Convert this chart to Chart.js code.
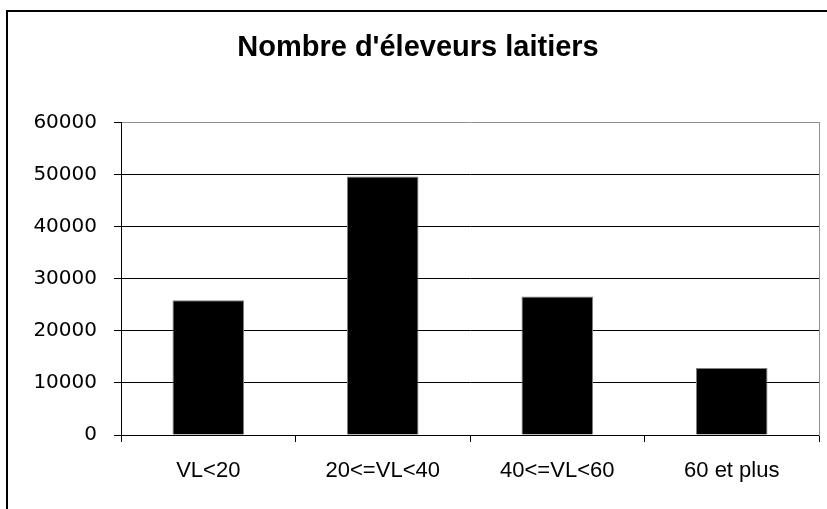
<html>
  <head>
    <meta charset="utf-8">
    <script src="https://cdn.jsdelivr.net/npm/chart.js@4.4.0/dist/chart.umd.min.js"></script>
    <style>
      body { margin: 0; background: #fff; }
      #wrap { position: relative; width: 827px; height: 509px; }
      #frame { position: absolute; left: 6px; top: 10px; right: -10px; bottom: -10px;
               border-left: 2px solid #000; border-top: 2px solid #000; }
      #chart { position: absolute; left: 0; top: 0; }
    </style>
  </head>
  <body>
    <div id="wrap">
      <div id="frame"></div>
      <canvas id="chart" width="827" height="509"></canvas>
    </div>
    <script>
const categories = ["VL<20", "20<=VL<40", "40<=VL<60", "60 et plus"];
const eleveurs = [25900, 49700, 26600, 12900];
const yMin = 0, yMax = 60000, yStep = 10000;
const chartTitle = "Nombre d'éleveurs laitiers";

const PAD_LEFT = 9, PLOT_LEFT = 121, PLOT_BOTTOM = 435, RIGHT_GAP = 8;

new Chart(document.getElementById("chart"), {
  type: 'bar',
  data: {
    labels: categories,
    datasets: [{
      data: eleveurs,
      backgroundColor: '#000',
      borderColor: '#808080',
      borderWidth: 1,
      barPercentage: 0.41,
      categoryPercentage: 1.0
    }]
  },
  options: {
    responsive: false,
    animation: false,
    layout: { padding: { left: PAD_LEFT, right: 0, top: 0, bottom: 0 } },
    plugins: {
      legend: { display: false },
      tooltip: { enabled: false },
      title: {
        display: true,
        text: chartTitle,
        color: '#000',
        font: { family: 'Liberation Sans', size: 29, weight: 'bold' },
        padding: { top: 31, bottom: 57 }
      }
    },
    scales: {
      x: {
        grid: { drawOnChartArea: false, drawTicks: true, tickLength: 7, color: '#000' },
        border: { color: '#000', width: 1 },
        ticks: { color: '#000', padding: 16, font: { family: 'Liberation Sans', size: 22 } },
        afterFit: s => { s.height = 509 - PLOT_BOTTOM; }
      },
      y: {
        min: yMin, max: yMax,
        grid: {
          color: ctx => ctx.tick && ctx.tick.value === yMax ? '#909090' : '#000',
          tickColor: '#000',
          tickLength: 7
        },
        border: { color: '#000', width: 1 },
        ticks: {
          stepSize: yStep, color: '#000', padding: 17,
          font: { family: 'DejaVu Sans', size: 20 },
          callback: v => String(v)
        },
        afterFit: s => { s.width = PLOT_LEFT - PAD_LEFT; }
      },
      y2: {
        position: 'right',
        min: yMin, max: yMax,
        grid: { display: false, drawTicks: false },
        border: { color: '#909090', width: 1 },
        ticks: { display: false },
        afterFit: s => { s.width = RIGHT_GAP; }
      }
    }
  }
});
    </script>
  </body>
</html>
